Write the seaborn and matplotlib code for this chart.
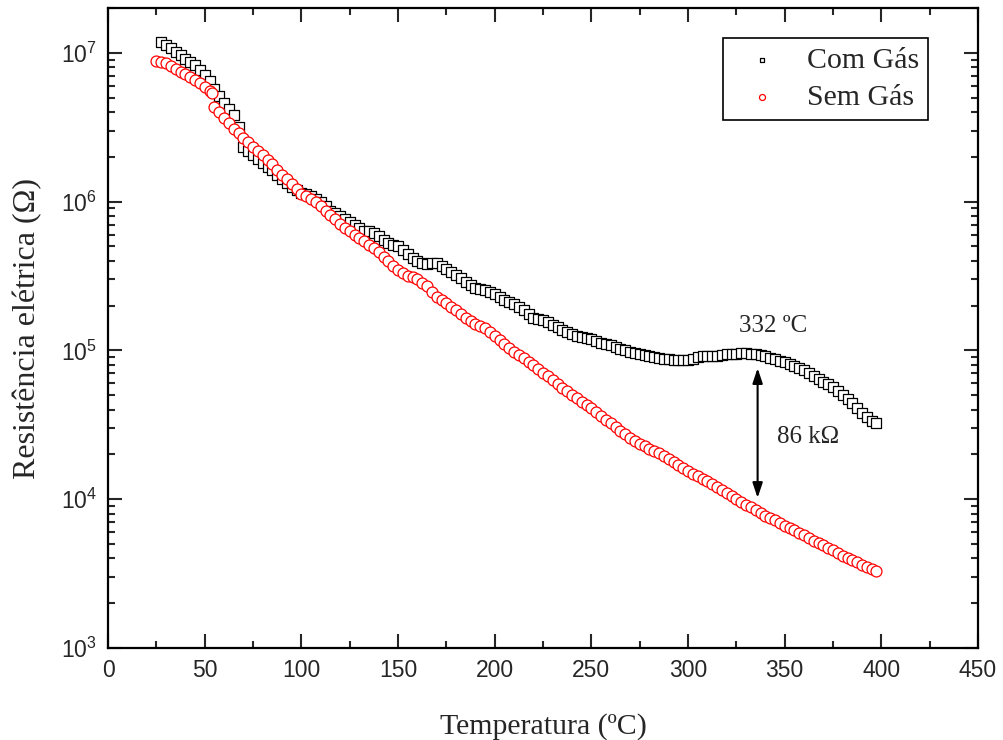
import numpy as np
import pandas as pd
import seaborn as sns
import matplotlib.pyplot as plt
from matplotlib.ticker import MultipleLocator, LogLocator

# temperatura (ºC) e log10 da resistencia (ohm)
temp_com = [27.5, 30, 32.5, 35, 37.5, 40, 42.5, 45, 47.5, 50,
            52.5, 55, 57.5, 60, 62.5, 65, 67.5, 70, 72.5, 75,
            77.5, 80, 82.5, 85, 87.5, 90, 92.5, 95, 97.5, 100,
            102.5, 105, 107.5, 110, 112.5, 115, 117.5, 120, 122.5, 125,
            127.5, 130, 132.5, 135, 137.5, 140, 142.5, 145, 147.5, 150,
            152.5, 155, 157.5, 160, 162.5, 165, 167.5, 170, 172.5, 175,
            177.5, 180, 182.5, 185, 187.5, 190, 192.5, 195, 197.5, 200,
            202.5, 205, 207.5, 210, 212.5, 215, 217.5, 220, 222.5, 225,
            227.5, 230, 232.5, 235, 237.5, 240, 242.5, 245, 247.5, 250,
            252.5, 255, 257.5, 260, 262.5, 265, 267.5, 270, 272.5, 275,
            277.5, 280, 282.5, 285, 287.5, 290, 292.5, 295, 297.5, 300,
            302.5, 305, 307.5, 310, 312.5, 315, 317.5, 320, 322.5, 325,
            327.5, 330, 332.5, 335, 337.5, 340, 342.5, 345, 347.5, 350,
            352.5, 355, 357.5, 360, 362.5, 365, 367.5, 370, 372.5, 375,
            377.5, 380, 382.5, 385, 387.5, 390, 392.5, 395, 397]
logr_com = [7.07, 7.05, 7.03, 7.005, 6.985, 6.96, 6.94, 6.915, 6.885, 6.85,
            6.81, 6.76, 6.71, 6.665, 6.62, 6.58, 6.50, 6.37, 6.34, 6.31,
            6.285, 6.26, 6.235, 6.21, 6.18, 6.15, 6.125, 6.10, 6.08, 6.06,
            6.05, 6.04, 6.02, 6.0, 5.97, 5.94, 5.92, 5.90, 5.88, 5.86,
            5.84, 5.82, 5.805, 5.80, 5.79, 5.77, 5.745, 5.72, 5.71, 5.70,
            5.675, 5.65, 5.62, 5.60, 5.585, 5.58, 5.585, 5.585, 5.57, 5.55,
            5.53, 5.51, 5.485, 5.46, 5.44, 5.42, 5.41, 5.405, 5.395, 5.38,
            5.36, 5.34, 5.325, 5.31, 5.29, 5.27, 5.245, 5.22, 5.21, 5.205,
            5.19, 5.17, 5.155, 5.14, 5.125, 5.11, 5.10, 5.09, 5.083, 5.075,
            5.062, 5.05, 5.043, 5.035, 5.022, 5.01, 5.0, 4.99, 4.982, 4.975,
            4.967, 4.96, 4.955, 4.95, 4.945, 4.94, 4.937, 4.935, 4.933, 4.935,
            4.945, 4.955, 4.962, 4.965, 4.965, 4.965, 4.97, 4.975, 4.977, 4.978,
            4.98, 4.98, 4.979, 4.975, 4.968, 4.96, 4.95, 4.94, 4.93, 4.92,
            4.908, 4.895, 4.883, 4.87, 4.85, 4.83, 4.81, 4.79, 4.773, 4.755,
            4.728, 4.70, 4.673, 4.645, 4.612, 4.58, 4.552, 4.525, 4.51]

temp_sem = [25, 27.5, 30, 32.5, 35, 37.5, 40, 42.5, 45, 47.5,
            50, 52.5, 54, 55, 57.5, 60, 62.5, 65, 67.5, 70,
            72.5, 75, 77.5, 80, 82.5, 85, 87.5, 90, 92.5, 95,
            97.5, 100, 102.5, 105, 107.5, 110, 112.5, 115, 117.5, 120,
            122.5, 125, 127.5, 130, 132.5, 135, 137.5, 140, 142.5, 145,
            147.5, 150, 152.5, 155, 157.5, 160, 162.5, 165, 167.5, 170,
            172.5, 175, 177.5, 180, 182.5, 185, 187.5, 190, 192.5, 195,
            197.5, 200, 202.5, 205, 207.5, 210, 212.5, 215, 217.5, 220,
            222.5, 225, 227.5, 230, 232.5, 235, 237.5, 240, 242.5, 245,
            247.5, 250, 252.5, 255, 257.5, 260, 262.5, 265, 267.5, 270,
            272.5, 275, 277.5, 280, 282.5, 285, 287.5, 290, 292.5, 295,
            297.5, 300, 302.5, 305, 307.5, 310, 312.5, 315, 317.5, 320,
            322.5, 325, 327.5, 330, 332.5, 335, 337.5, 340, 342.5, 345,
            347.5, 350, 352.5, 355, 357.5, 360, 362.5, 365, 367.5, 370,
            372.5, 375, 377.5, 380, 382.5, 385, 387.5, 390, 392.5, 395, 397]
logr_sem = [6.946, 6.94, 6.93, 6.91, 6.89, 6.872, 6.855, 6.838, 6.82, 6.795,
            6.77, 6.745, 6.73, 6.635, 6.60, 6.56, 6.525, 6.49, 6.46, 6.43,
            6.40, 6.37, 6.34, 6.31, 6.28, 6.25, 6.215, 6.18, 6.15, 6.12,
            6.085, 6.05, 6.035, 6.02, 5.995, 5.97, 5.94, 5.91, 5.88, 5.85,
            5.825, 5.80, 5.778, 5.755, 5.733, 5.71, 5.685, 5.66, 5.63, 5.60,
            5.57, 5.54, 5.52, 5.50, 5.49, 5.48, 5.455, 5.43, 5.395, 5.36,
            5.34, 5.32, 5.295, 5.27, 5.245, 5.22, 5.20, 5.18, 5.165, 5.15,
            5.125, 5.10, 5.07, 5.04, 5.015, 4.99, 4.97, 4.95, 4.925, 4.90,
            4.875, 4.85, 4.825, 4.80, 4.775, 4.75, 4.725, 4.70, 4.677, 4.655,
            4.632, 4.61, 4.585, 4.56, 4.535, 4.51, 4.485, 4.46, 4.435, 4.41,
            4.39, 4.37, 4.355, 4.34, 4.325, 4.31, 4.29, 4.27, 4.25, 4.23,
            4.21, 4.19, 4.172, 4.155, 4.138, 4.12, 4.10, 4.08, 4.06, 4.04,
            4.02, 4.00, 3.98, 3.96, 3.945, 3.93, 3.91, 3.89, 3.875, 3.86,
            3.84, 3.82, 3.805, 3.79, 3.775, 3.76, 3.74, 3.72, 3.705, 3.69,
            3.675, 3.66, 3.64, 3.62, 3.605, 3.59, 3.575, 3.56, 3.545, 3.53, 3.52]

pico_label = '332 ºC'
delta_label = '86 kΩ'

com = pd.DataFrame({'T': temp_com, 'R': 10 ** np.array(logr_com)})
sem = pd.DataFrame({'T': temp_sem, 'R': 10 ** np.array(logr_sem)})

sns.set_style('ticks')
plt.rcParams['font.family'] = ['Liberation Sans', 'DejaVu Sans']
serif = ['Liberation Serif', 'DejaVu Serif']

fig = plt.figure(figsize=(10.04, 7.4), dpi=100)
ax = fig.add_axes([0.1076, 0.1243, 0.8665, 0.8649])

sns.scatterplot(data=com, x='T', y='R', marker='s', s=42, color='white',
                edgecolor='black', linewidth=0.9, label='Com Gás', ax=ax, zorder=2)
sns.scatterplot(data=sem, x='T', y='R', marker='o', s=62, color='white',
                edgecolor='red', linewidth=0.9, label='Sem Gás', ax=ax, zorder=3)

ax.set_yscale('log')
ax.set_xlim(0, 450)
ax.set_ylim(1e3, 2e7)
ax.xaxis.set_major_locator(MultipleLocator(50))
ax.xaxis.set_minor_locator(MultipleLocator(25))
ax.yaxis.set_major_locator(LogLocator(base=10))
ax.yaxis.set_minor_locator(LogLocator(base=10, subs=np.arange(2, 10)))

ax.tick_params(which='both', direction='in', top=True, right=True, width=1.5,
               labelsize=16.5, pad=8)
ax.tick_params(which='major', length=10)
ax.tick_params(which='minor', length=5)
for sp in ax.spines.values():
    sp.set_linewidth(1.6)
    sp.set_color('black')

ax.set_xlabel('Temperatura (ºC)', family=serif, fontsize=21.5, labelpad=22)
ax.set_ylabel('Resistência elétrica (Ω)', family=serif, fontsize=23, labelpad=13)

# seta entre as curvas no pico
ax.annotate('', xy=(336, 1.02e4), xytext=(336, 7.6e4),
            arrowprops=dict(arrowstyle='<|-|>,head_length=0.9,head_width=0.3',
                            color='black', lw=1.5, shrinkA=0, shrinkB=0))
ax.text(344, 1.47e5, pico_label, family=serif, fontsize=18, ha='center', va='center')
ax.text(346, 2.62e4, delta_label, family=serif, fontsize=18, ha='left', va='center')

leg = ax.legend(loc='upper right', bbox_to_anchor=(0.9425, 0.953),
                prop={'family': serif, 'size': 21.5},
                frameon=True, fancybox=False, edgecolor='black', markerscale=0.55,
                handletextpad=0.5, borderpad=0.3, labelspacing=0.35,
                handlelength=2.0, borderaxespad=0)
leg.get_frame().set_linewidth(1.2)
leg.get_frame().set_alpha(1)

fig.savefig('out.png', dpi=100)
